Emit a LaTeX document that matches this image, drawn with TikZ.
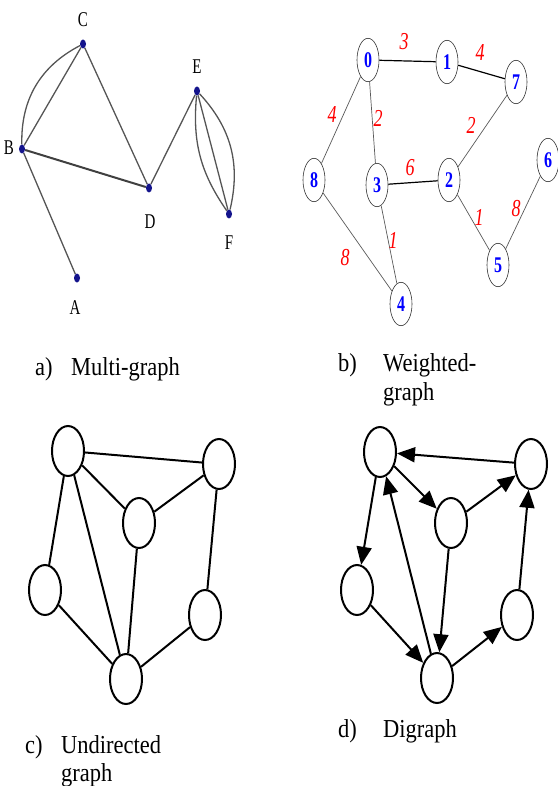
\documentclass[tikz,border=0pt]{standalone}
\usepackage{fontspec}
\setmainfont{Liberation Serif}
\usetikzlibrary{arrows.meta,shapes.geometric}
\definecolor{dotblue}{HTML}{14148C}
\definecolor{edgegray}{HTML}{555555}
\definecolor{numblue}{HTML}{0000FF}
\definecolor{wred}{HTML}{FF0000}

\begin{document}
\begin{tikzpicture}[x=1pt,y=-1pt,
  dot/.style={ellipse,fill=dotblue,inner sep=0pt,minimum width=6pt,minimum height=9pt},
  letter/.style={font=\fontsize{15}{15}\selectfont,yscale=1.4},
  wnode/.style={ellipse,draw=black!80,line width=0.6pt,inner sep=0pt,minimum width=22pt,
    minimum height=31pt,yscale=1.4,text=numblue,font=\bfseries\fontsize{16}{16}\selectfont},
  weight/.style={text=wred,font=\itshape\fontsize{18}{18}\selectfont,yscale=1.35},
  gnode/.style={ellipse,draw,line width=2pt,minimum width=32pt,minimum height=50pt},
  darc/.style={line width=2pt,-{Triangle[length=18pt,width=15pt]}},
  caption/.style={anchor=base west,inner sep=0pt,font=\fontsize{22.5}{27}\selectfont,yscale=1.15}]
\useasboundingbox (0,0) rectangle (557,786);
% a) multi-graph
\node[dot] (A) at (77,278) {};
\node[dot] (B) at (22,149) {};
\node[dot] (C) at (83,44) {};
\node[dot] (D) at (149,188) {};
\node[dot] (E) at (197,91) {};
\node[dot] (F) at (229,214) {};
\node[letter] (Al) at (75,308) {A};
\node[letter] (Bl) at (9,148) {B};
\node[letter] (Cl) at (83,20) {C};
\node[letter] (Dl) at (150,222) {D};
\node[letter] (El) at (197,67) {E};
\node[letter] (Fl) at (229,243) {F};
\draw[edgegray,line width=1.3pt] (B)--(C) (C)--(D) (D)--(E) (B)--(A);
\draw[edgegray,line width=1.3pt] (B) to[bend left=32] (C);
\draw[edgegray,line width=1.3pt] (E)--(F) (E) to[bend right=20] (F) (E) to[bend left=28] (F);
\draw[black!75,line width=2pt] (B)--(D);
% b) weighted graph
\node[wnode] (n0) at (368,60) {0};
\node[wnode] (n1) at (447,62) {1};
\node[wnode] (n7) at (516,82) {7};
\node[wnode] (n8) at (314,180) {8};
\node[wnode] (n3) at (377,185) {3};
\node[wnode] (n2) at (449,180) {2};
\node[wnode] (n6) at (548,160) {6};
\node[wnode] (n5) at (498,265) {5};
\node[wnode] (n4) at (401,304) {4};
\draw[line width=1.2pt] (n0)--(n1) (n1)--(n7) (n3)--(n2);
\draw[black!65,line width=0.7pt] (n0)--(n8) (n0)--(n3) (n7)--(n2) (n8)--(n4)
  (n3)--(n4) (n2)--(n5) (n5)--(n6);
\node[weight] (w01) at (404,42) {3};
\node[weight] (w17) at (480,53) {4};
\node[weight] (w08) at (332,115) {4};
\node[weight] (w03) at (378,118) {2};
\node[weight] (w72) at (471,125) {2};
\node[weight] (w32) at (410,168) {6};
\node[weight] (w34) at (393,240) {1};
\node[weight] (w84) at (345,258) {8};
\node[weight] (w25) at (479,217) {1};
\node[weight] (w56) at (516,209) {8};
% c) undirected graph
\node[gnode] (c1) at (68,451) {};
\node[gnode] (c2) at (219,464) {};
\node[gnode] (c3) at (139,523) {};
\node[gnode] (c4) at (45,590) {};
\node[gnode] (c5) at (205,615) {};
\node[gnode] (c6) at (126,679) {};
\draw[line width=2pt] (c1)--(c2) (c1)--(c3) (c3)--(c2) (c1)--(c4) (c1)--(c6)
  (c3)--(c6) (c4)--(c6) (c2)--(c5) (c5)--(c6);
% d) digraph
\node[gnode] (d1) at (380,452) {};
\node[gnode] (d2) at (531,464) {};
\node[gnode] (d3) at (451,523) {};
\node[gnode] (d4) at (357,590) {};
\node[gnode] (d5) at (517,615) {};
\node[gnode] (d6) at (437,678) {};
\draw[darc] (d2)--(d1);
\draw[darc] (d1)--(d3);
\draw[darc] (d3)--(d2);
\draw[darc] (d1)--(d4);
\draw[darc] (d6)--(d1);
\draw[darc] (d3)--(d6);
\draw[darc] (d4)--(d6);
\draw[darc] (d6)--(d5);
\draw[darc] (d5)--(d2);
% captions
\node[caption] (capa) at (35,375) {a)};
\node[caption] (capatext) at (71,375) {Multi-graph};
\node[caption] (capb) at (338,371) {b)};
\node[caption] (capbtext) at (383,371) {Weighted-};
\node[caption] (capbmore) at (383,400) {graph};
\node[caption] (capc) at (25,753) {c)};
\node[caption] (capctext) at (61,753) {Undirected};
\node[caption] (capcmore) at (61,781) {graph};
\node[caption] (capd) at (338,737) {d)};
\node[caption] (capdtext) at (383,737) {Digraph};
\end{tikzpicture}
\end{document}
